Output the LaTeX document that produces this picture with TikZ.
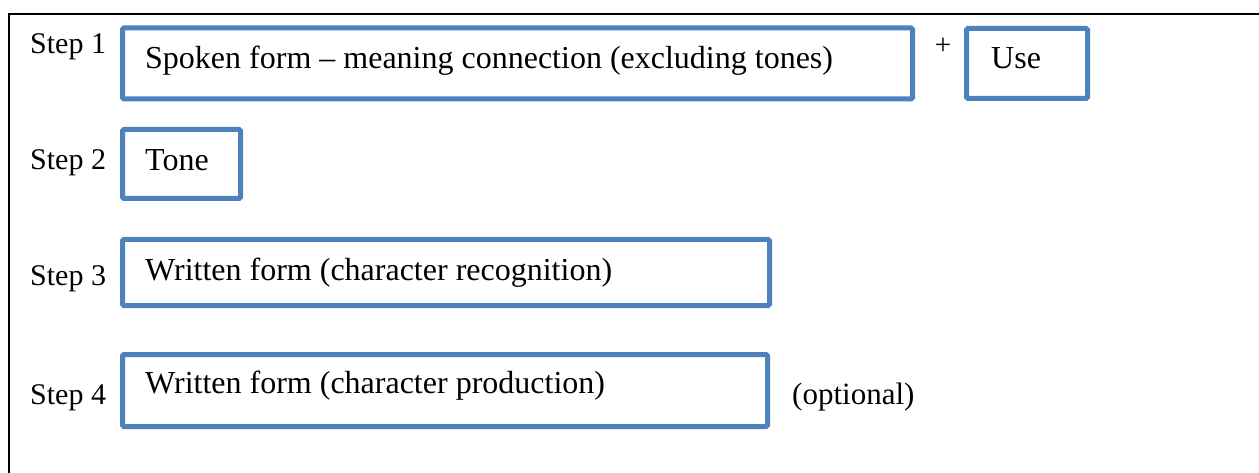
\documentclass[tikz,border=0pt]{standalone}
\usepackage{fontspec}
\setmainfont{Liberation Serif}
\definecolor{boxblue}{RGB}{79,129,189}
\tikzset{
  stepbox/.style={draw=boxblue, line width=5pt, rounded corners=1.5pt,
    inner sep=0pt, minimum width=#1},
  step text/.style={anchor=base west, inner sep=0pt, font=\fontsize{30}{35}\selectfont},
  box text/.style={anchor=base west, inner sep=0pt, font=\fontsize{32}{37}\selectfont},
}
\begin{document}
\begin{tikzpicture}[x=1pt, y=-1pt]
  \useasboundingbox (0,0) rectangle (1259,473);
  % frame, only top and left edges fall inside the page
  \draw[line width=2pt] (9,480) -- (9,14) -- (1265,14);

  % boxes
  \node[stepbox=790pt, minimum height=71pt] (b1) at (517.5,63.5) {};
  \node[stepbox=121pt, minimum height=70pt] (use) at (1027,63.5) {};
  \node[stepbox=118pt, minimum height=69pt] (b2) at (181.5,164) {};
  \node[stepbox=647pt, minimum height=66pt] (b3) at (446,272.5) {};
  \node[stepbox=645pt, minimum height=72pt] (b4) at (445,390.5) {};

  % step labels
  \node[step text] (s1) at (30,54) {Step 1};
  \node[step text] (s2) at (30,170) {Step 2};
  \node[step text] (s3) at (30,286) {Step 3};
  \node[step text] (s4) at (30,404) {Step 4};

  % box texts
  \node[box text] (t1) at (145,69) {Spoken form -- meaning connection (excluding tones)};
  \node[box text] (tu) at (991,69) {Use};
  \node[box text] (t2) at (145,171) {Tone};
  \node[box text] (t3) at (145,280) {Written form (character recognition)};
  \node[box text] (t4) at (145,393) {Written form (character production)};

  \node[anchor=center, inner sep=0pt, font=\fontsize{29}{33}\selectfont] (plus) at (943,46) {+};
  \node[anchor=base west, inner sep=0pt, font=\fontsize{31}{36}\selectfont] (opt) at (792,404) {(optional)};
\end{tikzpicture}
\end{document}
